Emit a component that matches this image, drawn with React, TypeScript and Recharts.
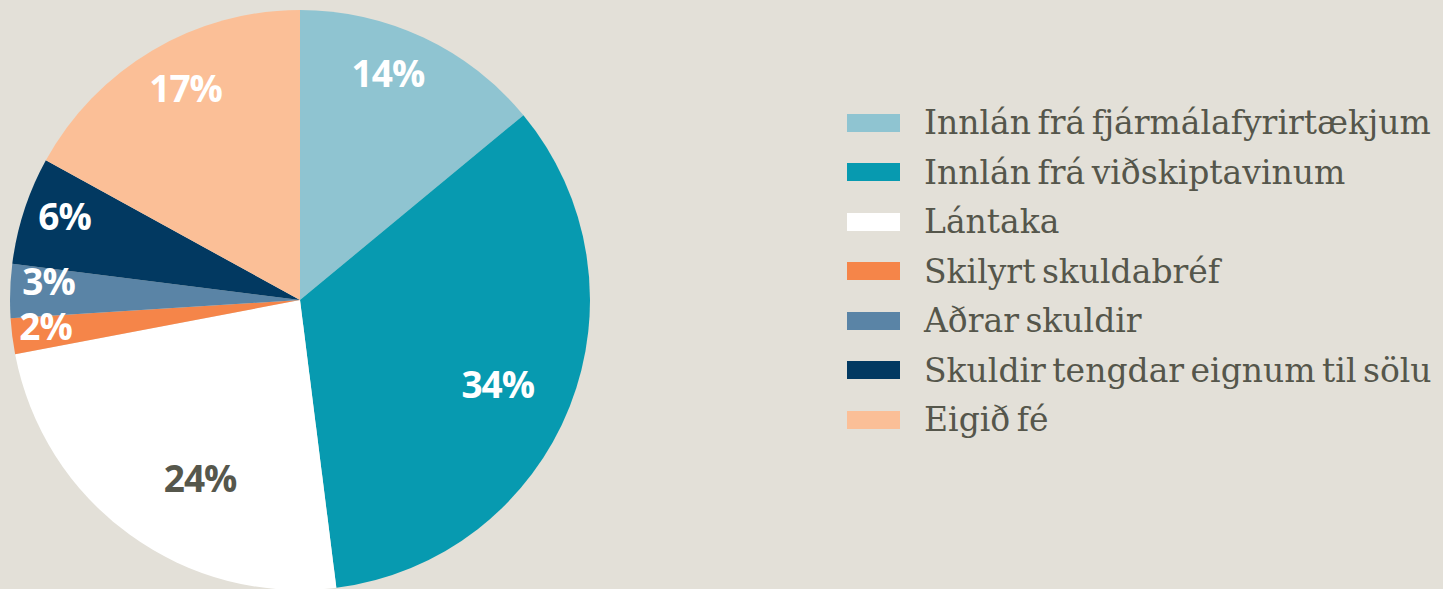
import React from "react"
import { Legend, Pie, PieChart, Cell } from "recharts"

const categories = [
    "Innlán frá fjármálafyrirtækjum",
    "Innlán frá viðskiptavinum",
    "Lántaka",
    "Skilyrt skuldabréf",
    "Aðrar skuldir",
    "Skuldir tengdar eignum til sölu",
    "Eigið fé",
]
const shares = [14, 34, 24, 2, 3, 6, 17]
const percentLabels = ["14%", "34%", "24%", "2%", "3%", "6%", "17%"]

const colors = ["#8fc4d1", "#079ab0", "#ffffff", "#f58549", "#5a84a6", "#023961", "#fbbf97"]
const labelColors = ["#fff", "#fff", "#56574c", "#fff", "#fff", "#fff", "#fff"]
// label radius (px) and clockwise angle nudge (deg) per slice
const labelPos = [
    { r: 241, a: -3.8 },
    { r: 216, a: 2.1 },
    { r: 206, a: -7 },
    { r: 256, a: 0.8 },
    { r: 252, a: 2.0 },
    { r: 249, a: 1 },
    { r: 239, a: 2 },
]

const data = categories.map((name, i) => ({ name, value: shares[i], label: percentLabels[i] }))

const RADIAN = Math.PI / 180

const renderLabel = (props: any) => {
    const { cx, cy, midAngle, index } = props
    const p = labelPos[index]
    const ang = (midAngle - p.a) * RADIAN
    const x = cx + p.r * Math.cos(ang)
    const y = cy - p.r * Math.sin(ang) - 3
    return <text x={x} y={y} fill={labelColors[index]} textAnchor="middle" dominantBaseline="central"
        style={{ fontFamily: "'Open Sans'", fontWeight: 700, fontSize: 37, letterSpacing: -1 }}>
        {percentLabels[index]}
    </text>
}

const renderLegend = () => {
    return <div>
        {categories.map((c, i) => (
            <div key={c} style={{ display: "flex", alignItems: "center", height: 49.5 }}>
                <div style={{ width: 53, height: 18, background: colors[i] }} />
                <span style={{ marginLeft: 24, fontFamily: "'DejaVu Serif'", fontSize: 33, wordSpacing: -4, color: "#55564b", whiteSpace: "nowrap" }}>{c}</span>
            </div>
        ))}
    </div>
}

const App = () => {
    return <div style={{ position: "absolute", left: 0, top: 0, width: 1443, height: 589, background: "#e3e0d8", overflow: "hidden" }}>
        <PieChart width={1443} height={589} margin={{ top: 0, right: 0, bottom: 0, left: 0 }}>
            <Pie data={data} dataKey="value" nameKey="name" cx={300} cy={300} outerRadius={290}
                startAngle={90} endAngle={-270} stroke="none" label={renderLabel} labelLine={false}
                isAnimationActive={false}>
                {data.map((d, i) => <Cell key={d.name} fill={colors[i]} />)}
            </Pie>
            <Legend content={renderLegend} layout="vertical" verticalAlign="top" align="right"
                wrapperStyle={{ left: 847, top: 98, width: 600 }} />
        </PieChart>
    </div>
}

export default App
